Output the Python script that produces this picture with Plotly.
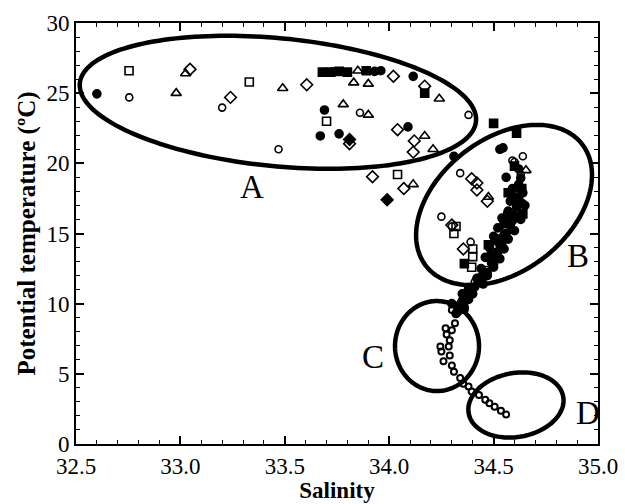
import numpy as np
import plotly.graph_objects as go

# ---------------- data (salinity, potential temperature) ----------------
fc_S = [32.60, 33.69, 33.67, 33.76, 34.09, 34.115, 33.73, 33.93, 33.96, 34.31, 34.545, 34.53,
        34.59, 34.63, 34.62, 34.64, 34.62, 34.65, 34.57, 34.60, 34.63, 34.58, 34.60, 34.55,
        34.57, 34.53, 34.55, 34.51, 34.53, 34.49, 34.50, 34.47, 34.45, 34.43, 34.41, 34.39,
        34.37, 34.35, 34.34, 34.33, 34.36, 34.32, 34.30, 34.36, 34.38,
        34.56, 34.62, 34.60, 34.58, 34.61, 34.54, 34.59, 34.52, 34.56, 34.50, 34.54, 34.48,
        34.52, 34.46, 34.50, 34.44, 34.47, 34.42, 34.45, 34.40, 34.38, 34.35]
fc_T = [24.95, 23.8, 21.95, 22.1, 22.6, 26.2, 26.5, 26.55, 26.6, 20.5, 21.1, 21.0,
        18.2, 18.95, 19.6, 17.9, 17.2, 17.0, 16.6, 16.3, 16.0, 15.6, 15.2, 14.9,
        14.6, 14.2, 13.9, 13.5, 13.2, 12.9, 12.6, 12.2, 11.9, 11.5, 11.2, 10.9,
        10.5, 10.2, 9.9, 9.6, 9.7, 9.3, 10.0, 10.1, 11.1,
        19.0, 18.5, 17.6, 17.3, 16.9, 16.1, 15.9, 15.4, 15.0, 14.8, 14.3, 14.0,
        13.7, 13.3, 12.8, 12.5, 12.0, 11.8, 11.4, 10.7, 10.3, 10.7]

fs_S = [33.68, 33.72, 33.76, 33.80, 33.89, 34.17, 34.50, 34.61, 34.475, 34.36, 34.635,
        34.62, 34.58, 34.52, 34.60, 34.55, 34.49, 34.64, 34.57]
fs_T = [26.5, 26.5, 26.55, 26.5, 26.6, 25.0, 22.85, 22.15, 14.2, 12.85, 18.2,
        17.5, 16.0, 14.5, 19.8, 15.7, 13.4, 16.4, 17.9]

oc_S = [32.755, 33.20, 33.47, 33.86, 34.38, 34.25, 34.30, 34.39, 34.34, 34.60,
        34.64, 34.59, 34.63, 34.60, 34.64, 34.565, 34.61, 34.61, 34.56, 34.53, 34.515,
        34.50, 34.465, 34.435, 34.41, 34.39, 34.40, 34.34, 34.33, 34.36]
oc_T = [24.7, 23.97, 21.0, 23.6, 23.45, 16.2, 15.5, 14.4, 19.3, 20.1,
        20.5, 20.2, 19.2, 18.2, 17.15, 16.45, 16.2, 16.7, 15.25, 14.65, 14.1,
        13.1, 12.4, 11.9, 11.55, 11.2, 11.0, 10.0, 9.4, 9.55]

os_S = [32.754, 33.33, 33.70, 34.04, 34.32, 34.31, 34.40, 34.395, 34.40]
os_T = [26.6, 25.8, 23.0, 19.2, 15.5, 15.0, 13.35, 12.6, 13.9]

ot_S = [32.98, 33.025, 33.49, 33.85, 33.83, 33.90, 34.24, 33.78, 33.90, 34.17, 34.21,
        34.115, 34.655, 34.475]
ot_T = [25.0, 26.4, 25.35, 26.6, 25.75, 25.66, 24.6, 24.2, 23.45, 21.95, 21.0,
        18.5, 19.5, 17.6]

od_S = [33.046, 33.24, 33.605, 34.02, 34.17, 33.81, 34.04, 34.12, 34.115, 33.92, 34.07,
        34.355, 34.30, 34.395, 34.42, 34.42, 34.47]
od_T = [26.7, 24.7, 25.6, 26.2, 25.5, 21.4, 22.4, 21.6, 20.8, 19.05, 18.2,
        13.9, 15.6, 18.9, 18.6, 18.1, 17.3]

fd_S = [33.99, 33.81]
fd_T = [17.4, 21.7]

# deep chain (regions C and D), small open circles
sc_S = [34.34, 34.36, 34.33, 34.30, 34.315, 34.27, 34.30, 34.275, 34.29, 34.245, 34.285,
        34.25, 34.29, 34.26, 34.30, 34.31, 34.34, 34.355, 34.38, 34.395, 34.43, 34.46,
        34.48, 34.505, 34.535, 34.56]
sc_T = [10.0, 9.7, 9.7, 9.55, 8.6, 8.25, 8.1, 7.8, 7.4, 6.95, 6.95,
        6.6, 6.3, 5.9, 5.6, 5.15, 4.7, 4.3, 4.1, 3.75, 3.5, 3.15,
        2.9, 2.65, 2.37, 2.1]

# water-mass labels
labels = ["A", "B", "C", "D"]
label_S = [33.343, 34.904, 33.922, 34.952]
label_T = [18.31, 13.40, 6.2, 2.2]

# ellipses: centre (S, T), semi-axes in pixels, rotation (deg)
ell_S = [33.467, 34.55, 34.229, 34.607]
ell_T = [24.35, 17.03, 6.98, 2.78]
ell_a = [199, 99, 42, 48]
ell_b = [64, 66, 45, 32]
ell_ang = [-5.5, 38, 0, 10]

x_range = [32.5, 35.0]
y_range = [0, 30]

# ---------------- layout geometry ----------------
W, H = 625, 504
ml, mr, mt, mb = 76, 27, 23, 60
pw, ph = W - ml - mr, H - mt - mb
sx = pw / (x_range[1] - x_range[0])   # px per salinity unit
sy = ph / (y_range[1] - y_range[0])   # px per degree

SERIF = "Liberation Serif, Times New Roman, serif"

fig = go.Figure()

def add(S, T, symbol, size=8, lw=1.6):
    fig.add_trace(go.Scatter(
        x=S, y=T, mode="markers", showlegend=False, hoverinfo="skip",
        marker=dict(symbol=symbol, size=size, color="black",
                    line=dict(color="black", width=lw))))

add(fs_S, fs_T, "square", 8)
add(fc_S, fc_T, "circle", 8)
add(fd_S, fd_T, "diamond", 9)
add(os_S, os_T, "square-open", 8)
add(ot_S, ot_T, "triangle-up-open", 9)
add(od_S, od_T, "diamond-open", 9)
add(oc_S, oc_T, "circle-open", 7)
add(sc_S, sc_T, "circle-open", 6, 2)

shapes = []
t = np.linspace(0, 2 * np.pi, 180)
for cS, cT, a, b, ang in zip(ell_S, ell_T, ell_a, ell_b, ell_ang):
    th = np.deg2rad(ang)
    dx = a * np.cos(t) * np.cos(th) - b * np.sin(t) * np.sin(th)
    dy = a * np.cos(t) * np.sin(th) + b * np.sin(t) * np.cos(th)
    xs = cS + dx / sx
    ys = cT + dy / sy
    path = "M " + " L ".join(f"{x:.5f},{y:.5f}" for x, y in zip(xs, ys)) + " Z"
    shapes.append(dict(type="path", path=path, xref="x", yref="y",
                       line=dict(color="black", width=4.5)))

annotations = [dict(x=s, y=tt, text=l, showarrow=False, xref="x", yref="y",
                    font=dict(family=SERIF, size=33, color="black"))
               for l, s, tt in zip(labels, label_S, label_T)]

axis_common = dict(
    showgrid=False, zeroline=False, showline=True, linecolor="black", linewidth=1.8,
    mirror="allticks", ticks="inside", ticklen=8, tickwidth=1.5, tickcolor="black",
    automargin=False,
    tickfont=dict(family=SERIF, size=23, color="black"),
)

fig.update_layout(
    template="none",
    width=W, height=H,
    margin=dict(l=ml, r=mr, t=mt, b=mb),
    paper_bgcolor="white", plot_bgcolor="white",
    font=dict(family=SERIF, color="black"),
    shapes=shapes, annotations=annotations,
    xaxis=dict(range=x_range, dtick=0.5, tick0=32.5, tickformat=".1f",
               minor=dict(dtick=0.1, ticks="inside", ticklen=4, tickcolor="black", tickwidth=1.2),
               title=dict(text="<b>Salinity</b>", standoff=0,
                          font=dict(family=SERIF, size=23, color="black")),
               **axis_common),
    yaxis=dict(range=y_range, dtick=5, tick0=0,
               minor=dict(dtick=1, ticks="inside", ticklen=4, tickcolor="black", tickwidth=1.2),
               title=dict(text="<b>Potential temperature (ºC)</b>", standoff=4,
                          font=dict(family=SERIF, size=25, color="black")),
               **axis_common),
)

fig.write_html("out.html", config={"displayModeBar": False},
               post_script="document.body.style.margin='0';")
